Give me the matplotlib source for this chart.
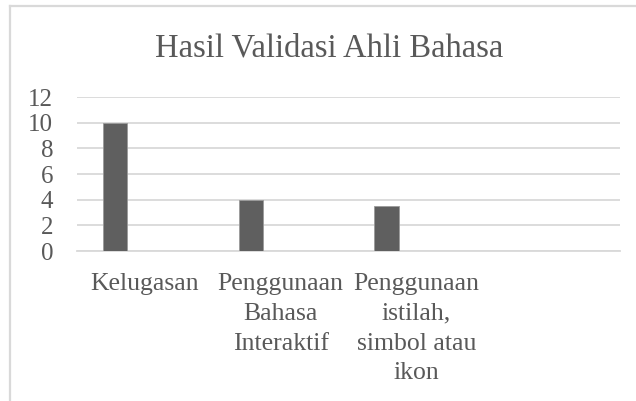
import numpy as np
import matplotlib
matplotlib.use("Agg")
import matplotlib.pyplot as plt
from matplotlib.lines import Line2D

serif = "Liberation Serif"
plt.rcParams["font.family"] = serif

categories = ["Kelugasan", "Penggunaan\nBahasa\nInteraktif",
              "Penggunaan\nistilah,\nsimbol atau\nikon", ""]
values = [10, 4, 3.5, np.nan]
yticks = [0, 2, 4, 6, 8, 10, 12]

text_col = "#595959"
grid_col = "#d9d9d9"

fig = plt.figure(figsize=(6.36, 4.01), dpi=100)
ax = fig.add_axes([0.121, 0.374, 0.854, 0.384])

x = np.arange(len(categories))
ax.bar(x - 0.22, values, width=0.18, color="#5f5f5f",
       edgecolor="#9a9a9a", linewidth=0.6, zorder=3)

ax.set_xlim(-0.5, len(categories) - 0.5)
ax.set_ylim(0, 12)
ax.set_yticks(yticks)
ax.set_yticklabels([str(v) for v in yticks], family=serif, fontsize=18,
                   color=text_col)
ax.set_xticks(x)
ax.set_xticklabels(categories, family=serif, fontsize=18.5, color=text_col,
                   linespacing=1.45)
ax.tick_params(axis="y", length=0, pad=17)
ax.tick_params(axis="x", length=0, pad=16)
ax.grid(axis="y", color=grid_col, linewidth=1.3, zorder=0)
for s in ["top", "right", "left"]:
    ax.spines[s].set_visible(False)
ax.spines["bottom"].set_color(grid_col)
ax.spines["bottom"].set_linewidth(1.3)

fig.text(0.517, 0.88, "Hasil Validasi Ahli Bahasa", family=serif,
         fontsize=23.5, color=text_col, ha="center", va="center")

# chart frame (cut off on right and bottom)
fig.add_artist(Line2D([0.0165, 0.0165], [0.0, 0.986], color=grid_col,
                      linewidth=1.6, transform=fig.transFigure))
fig.add_artist(Line2D([0.0165, 1.0], [0.986, 0.986], color=grid_col,
                      linewidth=1.6, transform=fig.transFigure))

fig.savefig("out.png", dpi=100)
